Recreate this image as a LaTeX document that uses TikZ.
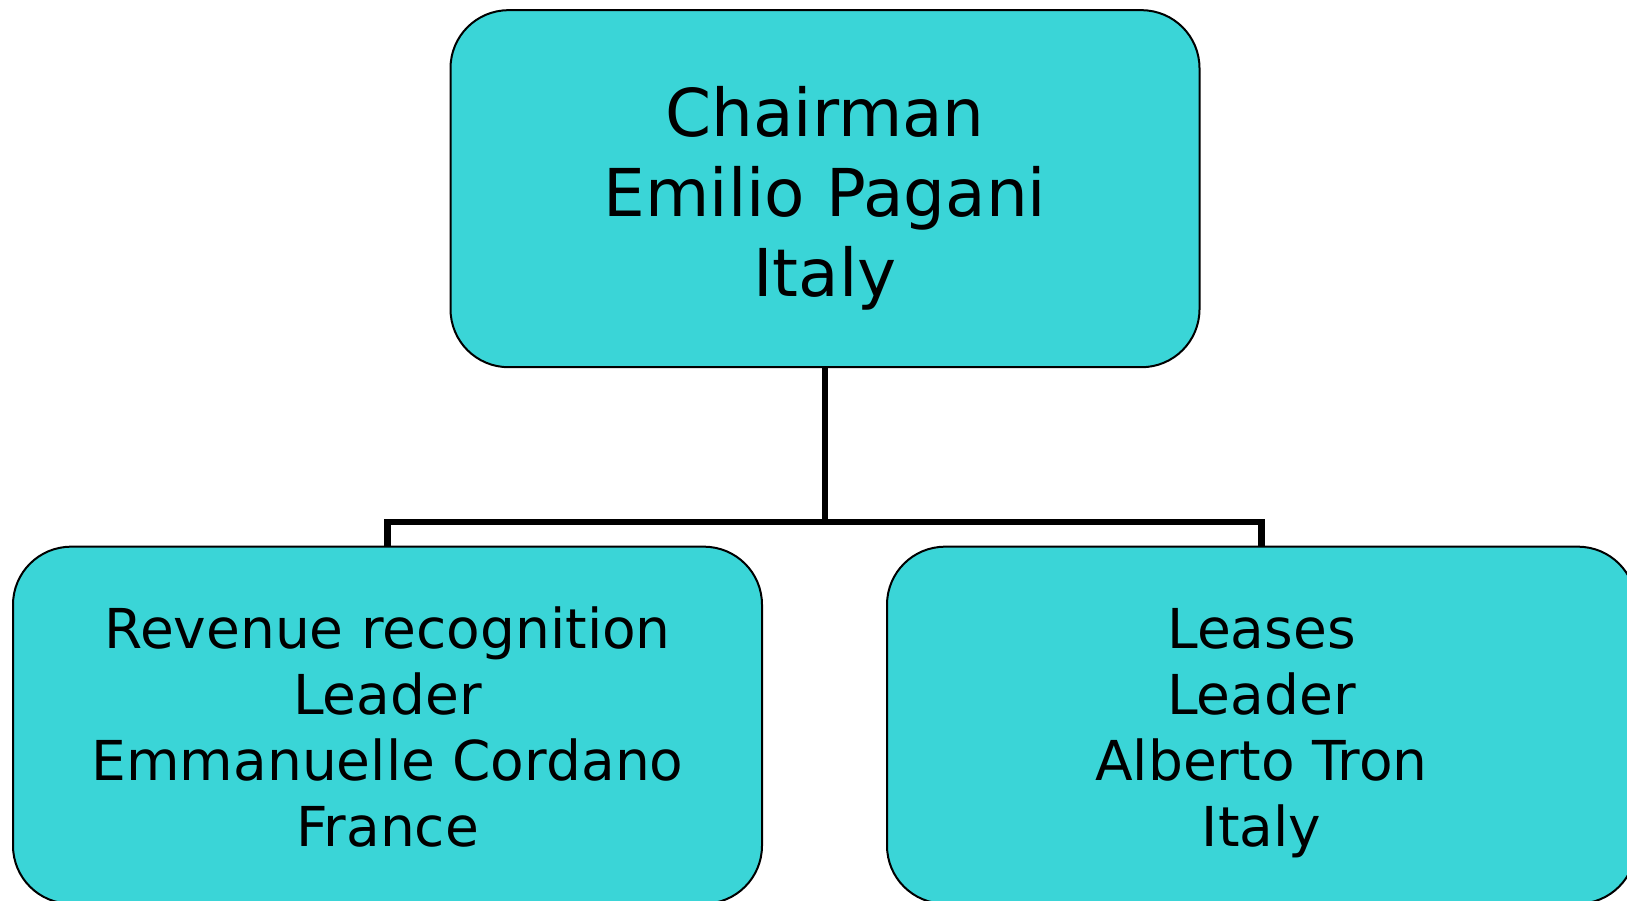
\documentclass[tikz,border=0pt]{standalone}
\usepackage{fontspec}
\setmainfont{DejaVu Sans}
\definecolor{boxfill}{RGB}{58,213,215}
\tikzset{
  orgbox/.style={draw=black, line width=2pt, fill=boxfill, rectangle,
    rounded corners=58pt, minimum width=749pt, minimum height=357pt,
    inner sep=0pt, outer sep=0pt},
  toptext/.style={anchor=north, align=center, inner sep=0pt, text=black,
    font=\fontsize{66}{80.1}\selectfont},
  subtext/.style={anchor=north, align=center, inner sep=0pt, text=black,
    font=\fontsize{55}{66.1}\selectfont},
  conn/.style={draw=black, line width=6.5pt, line join=miter}
}
\begin{document}
\begin{tikzpicture}[x=1pt, y=-1pt]
\useasboundingbox (0,0) rectangle (1627,901);
\clip (0,0) rectangle (1627,901);
\fill[white] (0,0) rectangle (1627,901);

\node[orgbox] (chair) at (825,188.7) {};
\node[orgbox] (rev) at (387.5,725.2) {};
\node[orgbox] (lease) at (1261.5,725.2) {};

\coordinate (bus) at (825,522);
\draw[conn] (chair.south) -- (bus);
\draw[conn] (rev.north) -- (rev.north |- bus) -- (lease.north |- bus) -- (lease.north);

\node[toptext] (chairtext) at (825,80.5) {\strut Chairman\\Emilio Pagani\\Italy};
\node[subtext] (revtext) at (387.5,602.2) {\strut Revenue recognition\\Leader\\Emmanuelle Cordano\\France};
\node[subtext] (leasetext) at (1261.5,602.2) {\strut Leases\\Leader\\Alberto Tron\\Italy};
\end{tikzpicture}
\end{document}
